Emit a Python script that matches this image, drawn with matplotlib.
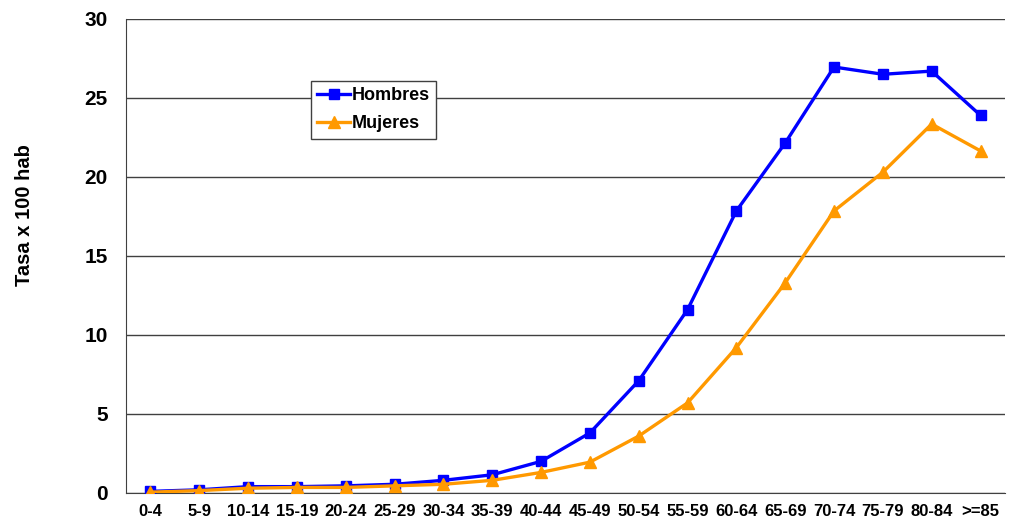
import numpy as np
import matplotlib.pyplot as plt

plt.rcParams['font.family'] = ['Liberation Sans', 'DejaVu Sans']

grupos = ['0-4', '5-9', '10-14', '15-19', '20-24', '25-29', '30-34', '35-39',
          '40-44', '45-49', '50-54', '55-59', '60-64', '65-69', '70-74',
          '75-79', '80-84', '>=85']
hombres = [0.1, 0.2, 0.4, 0.4, 0.45, 0.55, 0.8, 1.15, 2.0, 3.8, 7.1, 11.6,
           17.85, 22.15, 26.96, 26.5, 26.7, 23.9]
mujeres = [0.05, 0.15, 0.3, 0.35, 0.35, 0.45, 0.55, 0.8, 1.3, 1.95, 3.6, 5.7,
           9.2, 13.3, 17.85, 20.3, 23.35, 21.65]

fig = plt.figure(figsize=(10.12, 5.2), dpi=100)
ax = fig.add_axes([0.1245, 0.052, 0.8685, 0.9115])

x = np.arange(len(grupos))
ax.plot(x, hombres, color='#0000FF', lw=2.4, marker='s', ms=7.5, label='Hombres', zorder=3)
ax.plot(x, mujeres, color='#FF9900', lw=2.4, marker='^', ms=8.5, label='Mujeres', zorder=3)

ax.set_xlim(-0.5, len(grupos) - 0.5)
ax.set_ylim(0, 30)
ax.set_yticks(np.arange(0, 31, 5))
ax.set_xticks(x)
ax.set_xticklabels(grupos, fontsize=12, fontweight='bold')
for lbl in ax.get_yticklabels():
    lbl.set_fontsize(15)
    lbl.set_fontweight('bold')
ax.tick_params(length=0)
ax.tick_params(axis='y', pad=13)
ax.tick_params(axis='x', pad=8)
ax.yaxis.grid(True, color='#404040', lw=1)
ax.set_axisbelow(True)
for s in ['top', 'right']:
    ax.spines[s].set_visible(False)
ax.spines['left'].set_color('#404040')
ax.spines['bottom'].set_color('#404040')

ax.set_ylabel('Tasa x 100 hab', fontsize=14.5, fontweight='bold')
ax.yaxis.set_label_coords(-0.105, 0.586)

leg = ax.legend(loc='upper left', bbox_to_anchor=(0.2105, 0.869), frameon=True,
                fancybox=False, edgecolor='#404040', framealpha=1,
                prop={'size': 13, 'weight': 'bold'}, handlelength=1.8,
                handletextpad=0.1, borderpad=0.35, labelspacing=0.6,
                borderaxespad=0)
leg.get_frame().set_linewidth(1)

fig.savefig('out.png', dpi=100)
